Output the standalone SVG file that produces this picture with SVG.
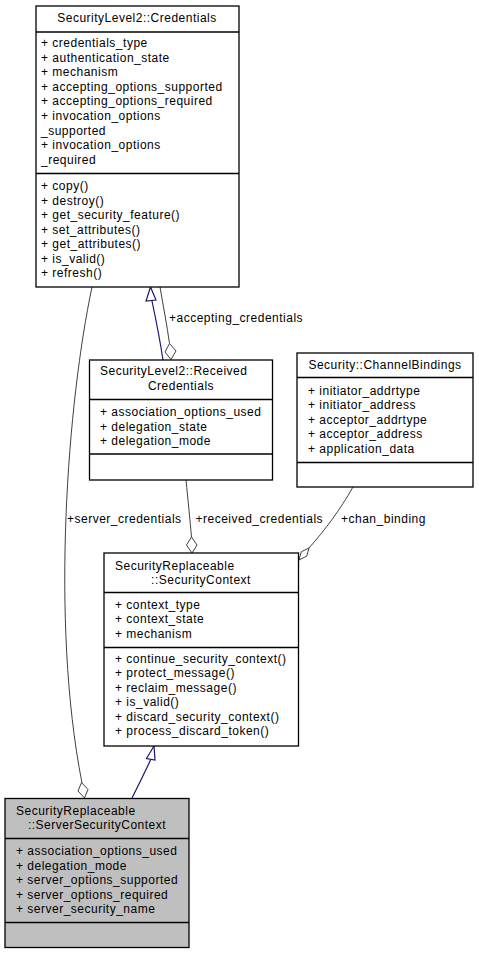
<svg xmlns="http://www.w3.org/2000/svg" width="479" height="955" viewBox="0 0 479 955">
<style>
text{font-family:"Liberation Sans",Arial,sans-serif;font-size:12px;letter-spacing:0.5px;fill:#000}
.m{text-anchor:middle}
.box{fill:#fff;stroke:#000;stroke-width:1.3}
.sel{fill:#bfbfbf;stroke:#000;stroke-width:1.3}
.sep{stroke:#000;stroke-width:1.3}
.agg{fill:none;stroke:#404040;stroke-width:1}
.dia{fill:#fff;stroke:#404040;stroke-width:1}
.inh{fill:none;stroke:#191970;stroke-width:1.2}
.tri{fill:#fff;stroke:#191970;stroke-width:1.2}
</style>
<rect width="479" height="955" fill="#fff"/>
<g id="edges">
<path class="agg" d="M92,287 C68,400 50,620 82,783"/>
<polygon class="dia" points="81.5,782.5 88,789.5 84.5,798 78,791"/>
<path class="inh" d="M163,360 C160,340 156,320 152,301"/>
<polygon class="tri" points="150.5,287 146,301 156,300"/>
<path class="agg" d="M160,287 C163,305 167,325 169.5,343.5"/>
<polygon class="dia" points="169.5,343.5 176,351 171,359.5 165,352"/>
<path class="agg" d="M186,480 C188,500 190,520 191.5,537"/>
<polygon class="dia" points="191.5,537 197,545 192,553 186.5,545"/>
<path class="agg" d="M353,487 C340,510 325,530 309,548"/>
<polygon class="dia" points="309,548 306.7,556.2 299,560 301.3,551.8"/>
<path class="inh" d="M132,798 C138,786 145,772 151,759"/>
<polygon class="tri" points="154,746 146.5,758.5 155,760"/>
<text x="169" y="322">+accepting_credentials</text>
<text x="67" y="523">+server_credentials</text>
<text x="195.5" y="523">+received_credentials</text>
<text x="341" y="523">+chan_binding</text>
</g>
<g id="credentials">
<rect class="box" x="36" y="6" width="203" height="281"/>
<line class="sep" x1="36" y1="32" x2="239" y2="32"/>
<line class="sep" x1="36" y1="173.5" x2="239" y2="173.5"/>
<text class="m" x="137" y="22">SecurityLevel2::Credentials</text>
<text x="41" y="47">+ credentials_type</text>
<text x="41" y="61.5">+ authentication_state</text>
<text x="41" y="76">+ mechanism</text>
<text x="41" y="90.5">+ accepting_options_supported</text>
<text x="41" y="105">+ accepting_options_required</text>
<text x="41" y="120">+ invocation_options</text>
<text x="41" y="134.5">_supported</text>
<text x="41" y="149">+ invocation_options</text>
<text x="41" y="163.5">_required</text>
<text x="41" y="190">+ copy()</text>
<text x="41" y="204.5">+ destroy()</text>
<text x="41" y="219">+ get_security_feature()</text>
<text x="41" y="233.5">+ set_attributes()</text>
<text x="41" y="248">+ get_attributes()</text>
<text x="41" y="262.5">+ is_valid()</text>
<text x="41" y="277">+ refresh()</text>
</g>
<g id="received_credentials">
<rect class="box" x="89.5" y="360" width="183" height="120"/>
<line class="sep" x1="89.5" y1="399.5" x2="272.5" y2="399.5"/>
<line class="sep" x1="89.5" y1="454" x2="272.5" y2="454"/>
<text x="100" y="375">SecurityLevel2::Received</text>
<text class="m" x="181" y="390">Credentials</text>
<text x="100" y="416">+ association_options_used</text>
<text x="100" y="430.5">+ delegation_state</text>
<text x="100" y="445">+ delegation_mode</text>
</g>
<g id="channel_bindings">
<rect class="box" x="297" y="353" width="176" height="134"/>
<line class="sep" x1="297" y1="377.5" x2="473" y2="377.5"/>
<line class="sep" x1="297" y1="462.5" x2="473" y2="462.5"/>
<text class="m" x="385" y="369">Security::ChannelBindings</text>
<text x="308" y="394.5">+ initiator_addrtype</text>
<text x="308" y="409">+ initiator_address</text>
<text x="308" y="423.5">+ acceptor_addrtype</text>
<text x="308" y="438">+ acceptor_address</text>
<text x="308" y="452.5">+ application_data</text>
</g>
<g id="security_context">
<rect class="box" x="104" y="553" width="194.5" height="193"/>
<line class="sep" x1="104" y1="592.5" x2="298.5" y2="592.5"/>
<line class="sep" x1="104" y1="647.5" x2="298.5" y2="647.5"/>
<text x="115" y="569.5">SecurityReplaceable</text>
<text class="m" x="201" y="584">::SecurityContext</text>
<text x="115" y="608.5">+ context_type</text>
<text x="115" y="623">+ context_state</text>
<text x="115" y="637.5">+ mechanism</text>
<text x="115" y="662.5">+ continue_security_context()</text>
<text x="115" y="677">+ protect_message()</text>
<text x="115" y="691.5">+ reclaim_message()</text>
<text x="115" y="706">+ is_valid()</text>
<text x="115" y="720.5">+ discard_security_context()</text>
<text x="115" y="735">+ process_discard_token()</text>
</g>
<g id="server_security_context">
<rect class="sel" x="5" y="798.5" width="184" height="149"/>
<line class="sep" x1="5" y1="838.5" x2="189" y2="838.5"/>
<line class="sep" x1="5" y1="922.5" x2="189" y2="922.5"/>
<text x="16" y="814.5">SecurityReplaceable</text>
<text class="m" x="97" y="829">::ServerSecurityContext</text>
<text x="16" y="855">+ association_options_used</text>
<text x="16" y="869.5">+ delegation_mode</text>
<text x="16" y="884">+ server_options_supported</text>
<text x="16" y="898.5">+ server_options_required</text>
<text x="16" y="913">+ server_security_name</text>
</g>
</svg>
